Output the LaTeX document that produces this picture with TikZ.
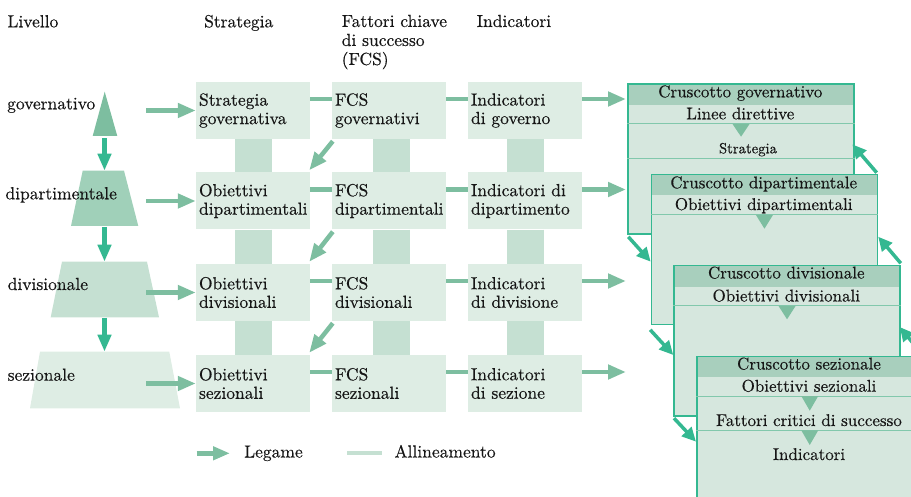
\documentclass[tikz,border=0pt]{standalone}
\usepackage{fontspec}
\setmainfont{lmroman10-regular.otf}[FakeBold=0.35]
\usetikzlibrary{arrows.meta}

\definecolor{ink}{RGB}{22,22,22}
\definecolor{boxfill}{RGB}{222,237,228}
\definecolor{barfill}{RGB}{197,224,210}
\definecolor{midgreen}{RGB}{125,190,160}
\definecolor{pyrtwo}{RGB}{160,208,185}
\definecolor{teal}{RGB}{52,184,145}
\definecolor{cardbg}{RGB}{214,231,222}
\definecolor{cardhead}{RGB}{168,207,189}
\definecolor{sepline}{RGB}{130,200,172}

\tikzset{
  box/.style={fill=boxfill, minimum width=114pt, minimum height=57pt,
    text width=108pt, inner xsep=3pt, inner ysep=0pt, align=left},
  label/.style={inner sep=0pt, anchor=base west},
  legame/.style={draw=midgreen, line width=4.5pt,
    -{Triangle[length=18pt,width=14pt]}},
  link/.style={draw=midgreen, line width=4.5pt},
  alignbar/.style={draw=barfill, line width=37pt},
  down/.style={draw=teal, line width=4.5pt,
    -{Triangle[length=17pt,width=13pt]}},
  cardarrow/.style={draw=teal, line width=3.5pt,
    -{Triangle[length=14pt,width=13pt]}},
  card/.style={draw=teal, line width=1.5pt, fill=cardbg, anchor=north west,
    minimum width=226pt, minimum height=150pt, inner sep=0pt,
    path picture={\fill[cardhead] (path picture bounding box.north west)
      rectangle ([yshift=-21pt]path picture bounding box.north east);}},
  cardtext/.style={inner sep=0pt, anchor=base, font=\fontsize{17}{19}\selectfont},
  subtext/.style={inner sep=0pt, anchor=base, font=\fontsize{17}{19}\selectfont},
  sep/.style={draw=sepline, line width=1pt},
  tri/.style={fill=midgreen},
}

\begin{document}
\begin{tikzpicture}[x=1pt, y=-1pt, text=ink,
  font=\fontsize{17.5}{18.5}\selectfont]
\clip (0,0) rectangle (911,497);

% column headings
\node[label] (hlev) at (7.3,27.3) {Livello};
\node[label] (hstr) at (204,27.3) {Strategia};
\node[inner sep=0pt, anchor=north west, align=left,
  font=\fontsize{17.5}{19}\selectfont] (hfcs) at (341.5,14.6)
  {Fattori chiave\\di successo\\(FCS)};
\node[label] (hind) at (476.5,27) {Indicatori};

% level pyramid
\fill[midgreen] (104.7,91.7) -- (117.3,136) -- (92.7,136) -- cycle;
\fill[pyrtwo] (82.7,170.7) -- (124,170.7) -- (138.3,226) -- (71,226) -- cycle;
\fill[barfill] (62,261.7) -- (147,261.7) -- (159,317.3) -- (50.7,317.3) -- cycle;
\fill[boxfill] (40,351.7) -- (169.3,351.7) -- (180,408.3) -- (30,408.3) -- cycle;

\coordinate (p1b) at (104.5,138.5);
\coordinate (p2t) at (104.5,170.7);
\coordinate (p2b) at (104.5,227);
\coordinate (p3t) at (104.5,261.7);
\coordinate (p3b) at (104.5,318);
\coordinate (p4t) at (104.5,351.7);
\draw[down] (p1b) -- (p2t);
\draw[down] (p2b) -- (p3t);
\draw[down] (p3b) -- (p4t);

\node[label] (lv1) at (7,109.3) {governativo};
\node[label] (lv2) at (5.3,199.3) {dipartimentale};
\node[label] (lv3) at (7.5,290) {divisionale};
\node[label] (lv4) at (7.5,380.7) {sezionale};

% strategy / FCS / indicator boxes
\node[box] (s1) at (253,110.5) {Strategia\\governativa};
\node[box] (f1) at (389,110.5) {FCS\\governativi};
\node[box] (i1) at (525,110.5) {Indicatori\\di governo};
\node[box] (s2) at (253,201) {Obiettivi\\dipartimentali};
\node[box] (f2) at (389,201) {FCS\\dipartimentali};
\node[box] (i2) at (525,201) {Indicatori di\\dipartimento};
\node[box] (s3) at (253,292.5) {Obiettivi\\divisionali};
\node[box] (f3) at (389,292.5) {FCS\\divisionali};
\node[box] (i3) at (525,292.5) {Indicatori\\di divisione};
\node[box] (s4) at (253,383.5) {Obiettivi\\sezionali};
\node[box] (f4) at (389,383.5) {FCS\\sezionali};
\node[box] (i4) at (525,383.5) {Indicatori\\di sezione};

% alignment bars between levels
\foreach \a/\b in {1/2,2/3,3/4}{
  \draw[alignbar] (s\a.south) -- (s\b.north);
  \draw[alignbar] ([xshift=2.5pt]f\a.south) -- ([xshift=2.5pt]f\b.north);
  \draw[alignbar] (i\a.south) -- (i\b.north);
}

% links within each level
\foreach \r in {1,2,3,4}{
  \draw[link] ([yshift=11.5pt]s\r.east) -- ([yshift=11.5pt]f\r.west);
  \draw[link] ([yshift=11.5pt]f\r.east) -- ([yshift=11.5pt]i\r.west);
}

% links from FCS to the next level's objectives
\foreach \a/\b in {1/2,2/3,3/4}{
  \draw[legame] ([shift={(1,2)}]f\a.south west) -- ([shift={(-1,-2)}]s\b.north east);
}

% links from the levels to the strategy boxes
\coordinate (a1) at (146,110.5);
\coordinate (a2) at (146,201);
\coordinate (a3) at (146,292.5);
\coordinate (a4) at (146,383.5);
\foreach \r in {1,2,3,4}{
  \draw[legame] (a\r) -- (s\r.west);
}

% links from the indicators to the dashboards
\coordinate (r1) at (626,99);
\coordinate (r2) at (626,189.5);
\coordinate (r3) at (626,281);
\coordinate (r4) at (626,372);
\foreach \r in {1,2,3,4}{
  \draw[legame] ([yshift=11.5pt]i\r.east) -- (r\r);
}

% dashboards
\node[card] (c1) at (627.3,83.3) {};
\draw[sep] ([yshift=-40.7pt]c1.north west) -- ([yshift=-40.7pt]c1.north east);
\draw[sep] ([yshift=-75pt]c1.north west) -- ([yshift=-75pt]c1.north east);
\fill[tri] ([shift={(-8.5,40.7)}]c1.north) -- ([shift={(8.5,40.7)}]c1.north)
  -- ([shift={(0,53.4)}]c1.north) -- cycle;
\node[cardtext] (c1h) at (740.3,97.3) {Cruscotto governativo};
\node[subtext] (c1a) at (740.3,119.3) {Linee direttive};
\node[cardtext, font=\fontsize{14.7}{17}\selectfont] (c1b) at (748,153.3) {Strategia};

\node[card] (c2) at (650.7,173.7) {};
\draw[sep] ([yshift=-41.3pt]c2.north west) -- ([yshift=-41.3pt]c2.north east);
\fill[tri] ([shift={(-8.5,41.3)}]c2.north) -- ([shift={(8.5,41.3)}]c2.north)
  -- ([shift={(0,55)}]c2.north) -- cycle;
\node[cardtext] (c2h) at (763.7,188.3) {Cruscotto dipartimentale};
\node[subtext] (c2a) at (763.7,210) {Obiettivi dipartimentali};

\node[card] (c3) at (673.3,265) {};
\draw[sep] ([yshift=-41pt]c3.north west) -- ([yshift=-41pt]c3.north east);
\fill[tri] ([shift={(-8.5,41)}]c3.north) -- ([shift={(8.5,41)}]c3.north)
  -- ([shift={(0,54.3)}]c3.north) -- cycle;
\node[cardtext] (c3h) at (786.3,278.5) {Cruscotto divisionale};
\node[subtext] (c3a) at (786.3,301.5) {Obiettivi divisionali};

\node[card] (c4) at (696,355.7) {};
\draw[sep] ([yshift=-40.3pt]c4.north west) -- ([yshift=-40.3pt]c4.north east);
\draw[sep] ([yshift=-74.6pt]c4.north west) -- ([yshift=-74.6pt]c4.north east);
\fill[tri] ([shift={(-8.5,40.3)}]c4.north) -- ([shift={(8.5,40.3)}]c4.north)
  -- ([shift={(0,55)}]c4.north) -- cycle;
\fill[tri] ([shift={(-8.5,74.6)}]c4.north) -- ([shift={(8.5,74.6)}]c4.north)
  -- ([shift={(0,89.3)}]c4.north) -- cycle;
\node[cardtext] (c4h) at (809,369.5) {Cruscotto sezionale};
\node[subtext] (c4a) at (809,391.7) {Obiettivi sezionali};
\node[subtext] (c4b) at (809,426) {Fattori critici di successo};
\node[subtext] (c4c) at (809,460) {Indicatori};

% cascade between dashboards
\draw[cardarrow] ([shift={(1,2)}]c1.south west) -- ([shift={(0,88)}]c2.north west);
\draw[cardarrow] ([shift={(-0.5,4.6)}]c2.south west) -- ([shift={(0,90)}]c3.north west);
\draw[cardarrow] ([shift={(0.7,1.7)}]c3.south west) -- ([shift={(0,86)}]c4.north west);
\draw[cardarrow] ([shift={(-1.5,-1)}]c2.north east) -- ([shift={(-2.5,61)}]c1.north east);
\draw[cardarrow] ([shift={(0,-1.7)}]c3.north east) -- ([shift={(0,63)}]c2.north east);
\draw[cardarrow] ([shift={(-1,-1)}]c4.north east) -- ([shift={(-1,62)}]c3.north east);

% legend
\coordinate (lg1) at (196.7,453.3);
\coordinate (lg2) at (230,453.3);
\draw[legame, -{Triangle[length=17pt,width=13pt]}] (lg1) -- (lg2);
\node[label] (lgt1) at (244,457.5) {Legame};
\coordinate (lb1) at (347.3,453.3);
\coordinate (lb2) at (381.7,453.3);
\draw[draw=barfill, line width=4pt] (lb1) -- (lb2);
\node[label] (lgt2) at (394.3,457.5) {Allineamento};
\end{tikzpicture}
\end{document}
